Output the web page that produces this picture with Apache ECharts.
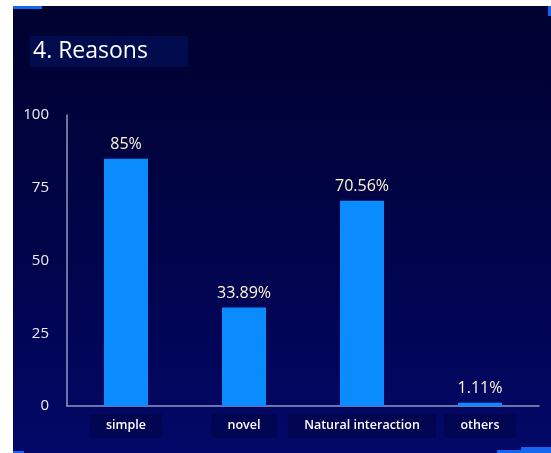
<!DOCTYPE html>
<html>
<head>
<meta charset="utf-8">
<script src="https://cdn.jsdelivr.net/npm/echarts@6/dist/echarts.min.js"></script>
<style>
html,body{margin:0;padding:0;background:#fff;width:551px;height:453px;overflow:hidden;}
#wrap{position:absolute;left:13px;top:6px;width:538px;height:447px;
background:linear-gradient(to bottom,#00022f 0%,#01044a 55%,#030868 100%);}
#chart{position:absolute;left:0;top:0;width:538px;height:447px;}
.acc{position:absolute;background:#1466f0;}
</style>
</head>
<body>
<div id="wrap">
<div id="chart"></div>
<div class="acc" style="left:0;top:0;width:29px;height:3px;"></div>
<div class="acc" style="right:0;top:0;width:3px;height:10px;"></div>
<div class="acc" style="left:0;bottom:0;width:11px;height:2px;"></div>
<div class="acc" style="right:0;bottom:0;width:54px;height:3px;"></div>
<div class="acc" style="right:0;bottom:0;width:30px;height:6px;"></div>
</div>
<script>
var categories = ['simple', 'novel', 'Natural interaction', 'others'];
var values = [85, 33.89, 70.56, 1.11];
var yTicks = [0, 25, 50, 75, 100];

var chart = echarts.init(document.getElementById('chart'));
chart.setOption({
  backgroundColor: 'transparent',
  title: {
    text: '4. Reasons',
    left: 17, top: 30,
    backgroundColor: '#000c4e',
    padding: [4, 40, 4, 3],
    textStyle: {color: '#fff', fontSize: 23, fontWeight: 500, fontFamily: 'Open Sans'}
  },
  grid: {left: 54, right: 12, top: 109, bottom: 47},
  xAxis: {
    type: 'category',
    data: categories,
    axisTick: {show: false},
    axisLine: {lineStyle: {color: '#9097c4', width: 1.5}},
    axisLabel: {
      interval: 0, hideOverlap: false,
      color: '#fff', fontSize: 12.5, fontWeight: 600, fontFamily: 'Open Sans', margin: 8,
      backgroundColor: 'rgba(0,2,50,0.35)', padding: [5, 16, 6, 16]
    }
  },
  yAxis: {
    type: 'value',
    min: yTicks[0], max: yTicks[yTicks.length - 1], interval: 25,
    splitLine: {show: false},
    axisTick: {show: false},
    axisLine: {show: true, lineStyle: {color: '#9097c4', width: 1.5}},
    axisLabel: {color: '#eeeef6', fontSize: 15, fontWeight: 500, fontFamily: 'Open Sans', margin: 18}
  },
  series: [{
    type: 'bar',
    data: values,
    barWidth: 44,
    itemStyle: {color: '#0a8cff'},
    label: {
      show: true, position: 'top', distance: 6,
      formatter: '{c}%',
      color: '#fff6dc', fontSize: 16, fontFamily: 'Open Sans'
    }
  }]
});
</script>
</body>
</html>
